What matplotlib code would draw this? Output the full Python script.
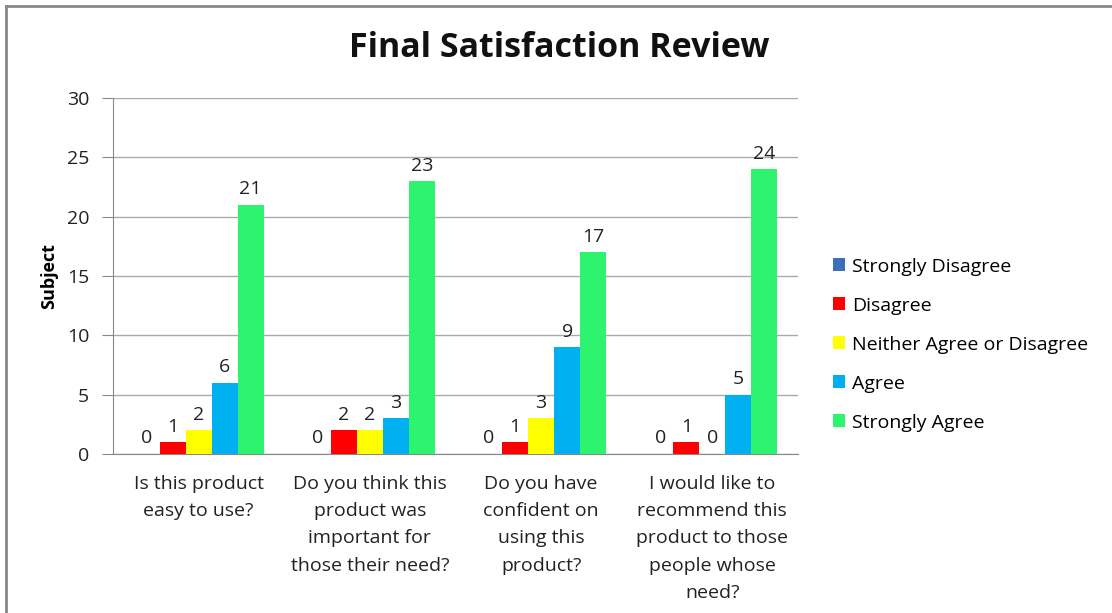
import numpy as np
import matplotlib.pyplot as plt
from matplotlib.lines import Line2D

plt.rcParams['font.family'] = ['Open Sans', 'DejaVu Sans']

questions = ["Is this product\neasy to use?",
             "Do you think this\nproduct was\nimportant for\nthose their need?",
             "Do you have\nconfident on\nusing this\nproduct?",
             "I would like to\nrecommend this\nproduct to those\npeople whose\nneed?"]
series = ["Strongly Disagree", "Disagree", "Neither Agree or Disagree",
          "Agree", "Strongly Agree"]
strongly_disagree = [0, 0, 0, 0]
disagree = [1, 2, 1, 1]
neither = [2, 2, 3, 0]
agree = [6, 3, 9, 5]
strongly_agree = [21, 23, 17, 24]
values = [strongly_disagree, disagree, neither, agree, strongly_agree]
colors = ['#3B6FB6', '#FF0000', '#FFFF00', '#00B0F0', '#2EF36E']

fig = plt.figure(figsize=(11.12, 6.13), dpi=100)
ax = fig.add_axes([0.1016, 0.2594, 0.616, 0.5807])

# outer chart border
fig.add_artist(Line2D([0.005, 0.005], [0, 0.991], color='#888888', lw=2))
fig.add_artist(Line2D([0.005, 1], [0.991, 0.991], color='#888888', lw=2))

x = np.arange(len(questions))
w = 0.152
for i, (name, vals, c) in enumerate(zip(series, values, colors)):
    pos = x + (i - 2) * w
    ax.bar(pos, vals, w, color=c, label=name, zorder=3)
    for p, v in zip(pos, vals):
        ax.text(p, v + 0.55, str(v), ha='center', va='bottom', fontsize=14,
                color='#222222')

ax.set_xlim(-0.5, 3.5)
ax.set_ylim(0, 30)
ax.set_yticks(range(0, 31, 5))
ax.tick_params(axis='y', labelsize=14, length=8, color='#888888', pad=9,
               labelcolor='#222222')
ax.set_xticks(x)
ax.set_xticklabels(questions, fontsize=14, color='#222222', linespacing=1.66)
ax.tick_params(axis='x', length=0, pad=15)
ax.grid(axis='y', color='#AAAAAA', lw=1, zorder=0)
for s in ['top', 'right']:
    ax.spines[s].set_visible(False)
ax.spines['left'].set_color('#888888')
ax.spines['bottom'].set_color('#888888')
ax.set_ylabel("Subject", fontsize=13, fontweight='bold', labelpad=6)

fig.text(0.503, 0.922, "Final Satisfaction Review", ha='center', va='center',
         fontsize=24.5, fontweight='bold', color='#111111')

fig.legend(loc='center left', bbox_to_anchor=(0.733, 0.438), frameon=False,
           fontsize=14, handlelength=0.65, handleheight=0.65,
           handletextpad=0.35, labelspacing=1.08)

fig.savefig('out.png', dpi=100)
